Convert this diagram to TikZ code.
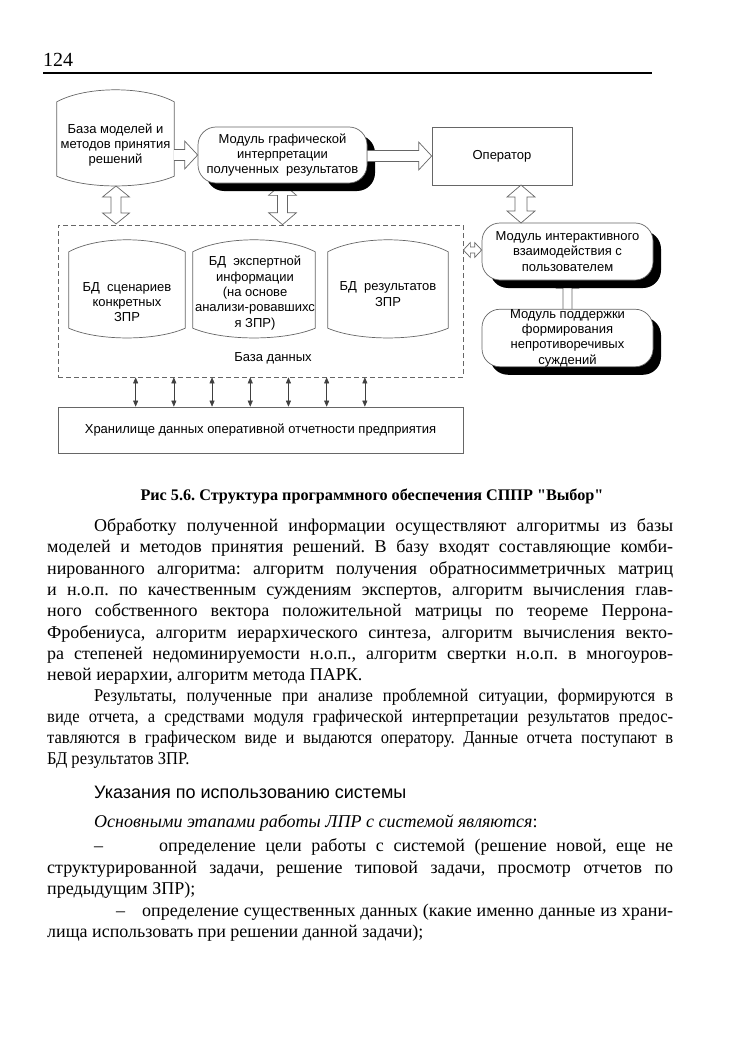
\documentclass[tikz,border=0pt]{standalone}
\usepackage{fontspec}
\setmainfont{Liberation Serif}
\setsansfont{Liberation Sans}
\newfontfamily\condserif[FakeStretch=0.92]{Liberation Serif}
\usetikzlibrary{
    calc,
    arrows.meta,
    positioning,
    shadows,
    backgrounds
}
\frenchspacing

\newcommand\diafont{\sffamily\fontsize{13}{15.3}\selectfont}
\newcommand\bodyfont{\fontsize{18}{21}\selectfont}

\tikzset{
    boxline/.style={draw=black!60, line width=0.7pt},
    modbox/.style={boxline, fill=white, rounded corners=18pt, align=center,
        font=\diafont, inner sep=0pt,
        drop shadow={shadow xshift=8pt, shadow yshift=-8pt, opacity=1, fill=black}},
    plainbox/.style={boxline, fill=white, align=center, font=\diafont, inner sep=0pt},
    cylnode/.style={inner sep=0pt},
    dbtext/.style={align=center, font=\diafont, inner sep=0pt},
    thinarrow/.style={black!75, line width=0.6pt,
        {Triangle[width=5pt,length=6pt]}-{Triangle[width=5pt,length=6pt]}},
    txtline/.style={anchor=base west, inner sep=0pt, font=\bodyfont}
}

% database drum round a named node
\newcommand\dbshape[1]{%
    \draw[boxline, fill=white]
    (#1.north west) .. controls ($(#1.north west)!.25!(#1.north east)+(0,-16)$)
        and ($(#1.north west)!.75!(#1.north east)+(0,-16)$) .. (#1.north east)
    -- (#1.south east) .. controls ($(#1.south west)!.75!(#1.south east)+(0,13)$)
        and ($(#1.south west)!.25!(#1.south east)+(0,13)$) .. (#1.south west)
    -- cycle;}
% hollow block arrows
\newcommand\hblock[2]{%
    \draw[boxline, fill=white] ($#1+(0,-5.5)$) -- ($#2+(-13,-5.5)$) -- ($#2+(-13,-14)$)
    -- #2 -- ($#2+(-13,14)$) -- ($#2+(-13,5.5)$) -- ($#1+(0,5.5)$);}
\newcommand\ublock[2]{%
    \draw[boxline, fill=white] ($#1+(-4.5,0)$) -- ($#2+(-4.5,8)$) -- ($#2+(-11,8)$)
    -- #2 -- ($#2+(11,8)$) -- ($#2+(4.5,8)$) -- ($#1+(4.5,0)$);}
\newcommand\vdblock[5]{%
    \draw[boxline, fill=white] #1 -- ($#1+(#4,#3)$) -- ($#1+(#5,#3)$) -- ($#2+(#5,-#3)$)
    -- ($#2+(#4,-#3)$) -- #2 -- ($#2+(-#4,-#3)$) -- ($#2+(-#5,-#3)$)
    -- ($#1+(-#5,#3)$) -- ($#1+(-#4,#3)$) -- cycle;}
\newcommand\hdblock[5]{%
    \draw[boxline, fill=white] #1 -- ($#1+(#3,-#4)$) -- ($#1+(#3,-#5)$) -- ($#2+(-#3,-#5)$)
    -- ($#2+(-#3,-#4)$) -- #2 -- ($#2+(-#3,#4)$) -- ($#2+(-#3,#5)$)
    -- ($#1+(#3,#5)$) -- ($#1+(#3,#4)$) -- cycle;}

\begin{document}
\begin{tikzpicture}[x=1pt, y=-1pt]
    \useasboundingbox (0,0) rectangle (750,1062);

    % Page head
    \node[txtline, font=\fontsize{20}{22}\selectfont] (pageno) at (43,67) {124};
    \draw[line width=1.2pt] (43,73) -- (652,73);

    % Top row
    \node[cylnode, minimum width=117, minimum height=74] (cylm) at (115.5,139) {};
    \dbshape{cylm}
    \node[dbtext] (cylm-t) at (115.5,145) {База моделей и\\методов принятия\\решений};
    \node[modbox, minimum width=169, minimum height=56] (gmod) at (282.5,155)
        {Модуль графической\\интерпретации\\полученных~ результатов};
    \node[plainbox, minimum width=140, minimum height=58] (oper) at (502,156) {Оператор};

    % Data base
    \node[draw=black!60, dashed, dash pattern=on 5pt off 3pt, line width=0.7pt,
        minimum width=405, minimum height=152, inner sep=0pt] (dbbox) at (260.5,301) {};
    \node[cylnode, minimum width=116, minimum height=76] (dbscen) at (127,290) {};
    \dbshape{dbscen}
    \node[dbtext] (dbscen-t) at (127,302) {БД~~сценариев\\конкретных\\ЗПР};
    \node[cylnode, minimum width=122, minimum height=76] (dbexp) at (254,290) {};
    \dbshape{dbexp}
    \node[dbtext] (dbexp-t) at (255,293)
        {БД~~экспертной\\информации\\(на основе\\анализи-ровавшихс\\я ЗПР)};
    \node[cylnode, minimum width=120, minimum height=76] (dbres) at (388,290) {};
    \dbshape{dbres}
    \node[dbtext] (dbres-t) at (388,294) {БД~~результатов\\ЗПР};
    \node[dbtext] (dblabel) at (273,358) {База данных};

    % Right column
    \node[modbox, minimum width=171, minimum height=57] (inter) at (567.5,251.5)
        {Модуль интерактивного\\взаимодействия с\\пользователем};
    \node[modbox, minimum width=171, minimum height=53] (supp) at (567.5,338)
        {Модуль поддержки\\формирования\\непротиворечивых\\суждений};

    % Storage
    \node[plainbox, minimum width=405, minimum height=46] (store) at (260.5,430)
        {Хранилище данных оперативной отчетности предприятия};

    % Block arrows
    \begin{scope}[on background layer]
        \vdblock{(gmod.south)}{(gmod.south |- dbbox.north)}{12}{14}{5}
        \ublock{(supp.north)}{(inter.south)}
    \end{scope}
    \hblock{(cylm.east |- gmod.west)}{(gmod.west)}
    \hblock{(gmod.east |- oper.west)}{(oper.west)}
    \vdblock{(116,186)}{(116,224)}{11}{13.5}{5}
    \vdblock{(521,185)}{(521,223)}{12}{14}{6}
    \hdblock{(dbbox.east |- 0,250)}{(inter.west |- 0,250)}{7}{7.5}{3}

    % Thin arrows to storage
    \foreach \i in {0,...,6}
        \draw[thinarrow] ($(dbbox.south west)+(78+38.2*\i,0)$) coordinate (t\i) -- (t\i |- store.north);

    % Caption
    \node[anchor=base, inner sep=0pt, font=\bfseries\fontsize{16.2}{19}\selectfont\addfontfeatures{Ligatures=TeXOff}]
        (capt) at (372,500) {Рис 5.6. Структура программного обеспечения СППР "Выбор"};

    % Text
    \node[txtline] (p1a) at (94,531) {\makebox[579pt][s]{Обработку полученной информации осуществляют алгоритмы из базы}};
    \node[txtline] (p1b) at (47,552) {\makebox[626pt][s]{моделей и методов принятия решений. В базу входят составляющие комби-}};
    \node[txtline] (p1c) at (47,574) {\makebox[626pt][s]{нированного алгоритма: алгоритм получения обратносимметричных матриц}};
    \node[txtline] (p1d) at (47,595) {\makebox[626pt][s]{и н.о.п. по качественным суждениям экспертов, алгоритм вычисления глав-}};
    \node[txtline] (p1e) at (47,616) {\makebox[626pt][s]{ного собственного вектора положительной матрицы по теореме Перрона-}};
    \node[txtline] (p1f) at (47,638) {\makebox[626pt][s]{Фробениуса, алгоритм иерархического синтеза, алгоритм вычисления векто-}};
    \node[txtline] (p1g) at (47,659) {\makebox[626pt][s]{ра степеней недоминируемости н.о.п., алгоритм свертки н.о.п. в многоуров-}};
    \node[txtline] (p1h) at (47,680) {невой иерархии, алгоритм метода ПАРК.};

    \node[txtline, font=\bodyfont\condserif] (p2a) at (94,701) {\makebox[579pt][s]{Результаты, полученные при анализе проблемной ситуации, формируются в}};
    \node[txtline, font=\bodyfont\condserif] (p2b) at (47,722) {\makebox[626pt][s]{виде отчета, а средствами модуля графической интерпретации результатов предос-}};
    \node[txtline, font=\bodyfont\condserif] (p2c) at (47,743) {\makebox[626pt][s]{тавляются в графическом виде и выдаются оператору. Данные отчета поступают в}};
    \node[txtline, font=\bodyfont\condserif] (p2d) at (47,764) {БД результатов ЗПР.};

    \node[txtline, font=\sffamily\fontsize{18}{21}\selectfont] (head) at (94,798) {Указания по использованию системы};
    \node[txtline] (p3a) at (94,827) {\textit{Основными этапами работы ЛПР с системой являются}:};
    \node[txtline] (dash1) at (94,851) {–};
    \node[txtline] (p3b) at (159,851) {\makebox[514pt][s]{определение цели работы с системой (решение новой, еще не}};
    \node[txtline] (p3c) at (47,873) {\makebox[626pt][s]{структурированной задачи, решение типовой задачи, просмотр отчетов по}};
    \node[txtline] (p3d) at (47,894) {предыдущим ЗПР);};
    \node[txtline] (dash2) at (116,916) {–};
    \node[txtline] (p3e) at (142,916) {\makebox[531pt][s]{определение существенных данных (какие именно данные из храни-}};
    \node[txtline] (p3f) at (47,937) {лища использовать при решении данной задачи);};
\end{tikzpicture}
\end{document}
